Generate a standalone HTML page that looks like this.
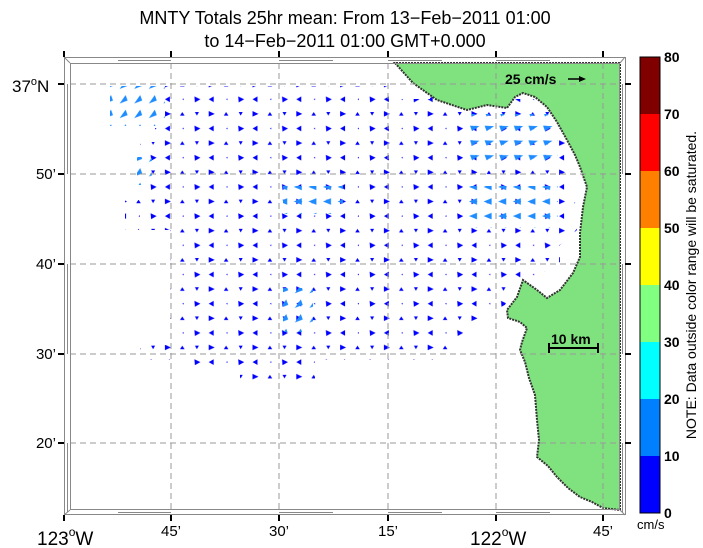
<!DOCTYPE html>
<html><head><meta charset="utf-8"><style>
html,body{margin:0;padding:0;background:#fff;}
svg{display:block;font-family:"Liberation Sans",sans-serif;}
</style></head><body>
<svg width="703" height="548" viewBox="0 0 703 548" xmlns="http://www.w3.org/2000/svg">
<defs>
<pattern id="pb" patternUnits="userSpaceOnUse" x="160.4" y="77.4" width="43.8" height="29.2">
<polygon points="10.5,7.3 4.5,4.5 4.5,10" fill="#0000ff"/>
<polygon points="21.9,5.5 19.6,9 24.2,9" fill="#0000ff"/>
<polygon points="36.5,9 34.5,5.5 38.5,5.5" fill="#0000ff"/>
<polygon points="4.5,21.9 9.5,19 9.5,24.8" fill="#0000ff"/>
<polygon points="21.9,21.9 23.3,21 23.3,22.8" fill="#0000ff"/>
<polygon points="40,21.9 34,19 34.5,25" fill="#0000ff"/>
</pattern>
<pattern id="pl1" patternUnits="userSpaceOnUse" x="160.4" y="77.4" width="14.6" height="14.6">
<polygon points="3,11.5 9,3 11,8.5" fill="#1e8cff"/>
</pattern>
<pattern id="pl2" patternUnits="userSpaceOnUse" x="160.4" y="77.4" width="14.6" height="14.6">
<polygon points="12.5,5 3,4.5 5,10" fill="#1e8cff"/>
</pattern>
<pattern id="pl3" patternUnits="userSpaceOnUse" x="160.4" y="77.4" width="14.6" height="14.6">
<polygon points="2,7.3 10,4 10,10.6" fill="#1e8cff"/>
</pattern>
</defs>
<rect width="703" height="548" fill="#fff"/>
<text x="345" y="24" font-size="18" text-anchor="middle">MNTY Totals 25hr mean: From 13−Feb−2011 01:00</text>
<text x="345" y="47" font-size="18" text-anchor="middle">to 14−Feb−2011 01:00 GMT+0.000</text>
<!-- arrows -->
<path fill="url(#pb)" d="M165,86 L395,86 L395,99 L430,99 L430,86 L490,86 L490,99 L560,99 L572,160 L577,230 L560,245 L560,262 L540,275 L515,285 L505,305 L465,330 L445,360 L315,360 L315,387 L240,387 L240,372 L185,372 L185,360 L140,360 L140,345 L170,345 L170,230 L125,230 L125,200 L140,200 L140,142 L155,142 L155,128 L165,128 Z"/>
<rect x="110" y="86" width="55" height="40" fill="url(#pl1)"/>
<rect x="137" y="157" width="15" height="28" fill="url(#pl1)"/>
<rect x="466" y="114" width="92" height="55" fill="url(#pl2)"/>
<rect x="466" y="186" width="92" height="42" fill="url(#pl3)"/>
<rect x="283" y="186" width="60" height="28" fill="url(#pl3)"/>
<rect x="283" y="288" width="30" height="44" fill="url(#pl1)"/>
<!-- land -->
<path fill="#80e27e" stroke="#333" stroke-width="2" stroke-dasharray="2,1" d="M395,63 L413,83 L437,100 L467,110 L487,105 L507,108 L515,97 L523,93 L535,97 L547,107 L557,122 L567,140 L575,155 L580,167 L587,187 L583,207 L580,233 L580,257 L573,273 L560,290 L547,298 L537,290 L523,280 L517,297 L507,310 L508,318 L520,322 L527,328 L522,342 L520,350 L525,362 L529,378 L535,395 L537,420 L539,440 L537,457 L548,466 L557,477 L568,488 L580,497 L592,502 L603,508 L620,510 L620,63 Z"/>
<!-- grid -->
<g stroke="#999" stroke-width="1" stroke-dasharray="6,4">
<line x1="171" y1="63" x2="171" y2="510"/><line x1="279" y1="63" x2="279" y2="510"/><line x1="388" y1="63" x2="388" y2="510"/><line x1="496" y1="63" x2="496" y2="510"/><line x1="603" y1="63" x2="603" y2="510"/>
<line x1="70" y1="84" x2="620" y2="84"/><line x1="70" y1="174" x2="620" y2="174"/><line x1="70" y1="264" x2="620" y2="264"/><line x1="70" y1="354" x2="620" y2="354"/><line x1="70" y1="443" x2="620" y2="443"/>
</g>
<!-- frame -->
<g fill="none" stroke="#888" stroke-width="1">
<rect x="64.5" y="57.5" width="561" height="457"/>
<rect x="70.5" y="63.5" width="549" height="446"/>
<line x1="64" y1="57" x2="70" y2="63"/><line x1="625" y1="57" x2="620" y2="63"/><line x1="64" y1="515" x2="70" y2="510"/><line x1="625" y1="515" x2="620" y2="510"/>
<line x1="67.5" y1="84" x2="67.5" y2="174"/><line x1="67.5" y1="264" x2="67.5" y2="354"/><line x1="67.5" y1="443" x2="67.5" y2="512"/>
<line x1="622.5" y1="84" x2="622.5" y2="174"/><line x1="622.5" y1="264" x2="622.5" y2="354"/><line x1="622.5" y1="443" x2="622.5" y2="512"/>
<line x1="118" y1="60.5" x2="171" y2="60.5"/><line x1="279" y1="60.5" x2="333" y2="60.5"/><line x1="388" y1="60.5" x2="442" y2="60.5"/><line x1="496" y1="60.5" x2="550" y2="60.5"/>
<line x1="118" y1="512.5" x2="171" y2="512.5"/><line x1="279" y1="512.5" x2="333" y2="512.5"/><line x1="388" y1="512.5" x2="442" y2="512.5"/><line x1="496" y1="512.5" x2="550" y2="512.5"/>
</g>
<g stroke="#000" stroke-width="2">
<line x1="64" y1="51" x2="64" y2="57"/><line x1="171" y1="51" x2="171" y2="57"/><line x1="279" y1="51" x2="279" y2="57"/><line x1="388" y1="51" x2="388" y2="57"/><line x1="496" y1="51" x2="496" y2="57"/><line x1="603" y1="51" x2="603" y2="57"/>
<line x1="64" y1="515" x2="64" y2="521"/><line x1="171" y1="515" x2="171" y2="521"/><line x1="279" y1="515" x2="279" y2="521"/><line x1="388" y1="515" x2="388" y2="521"/><line x1="496" y1="515" x2="496" y2="521"/><line x1="603" y1="515" x2="603" y2="521"/>
<line x1="58" y1="84" x2="64" y2="84"/><line x1="58" y1="174" x2="64" y2="174"/><line x1="58" y1="264" x2="64" y2="264"/><line x1="58" y1="354" x2="64" y2="354"/><line x1="58" y1="443" x2="64" y2="443"/>
<line x1="625" y1="84" x2="631" y2="84"/><line x1="625" y1="174" x2="631" y2="174"/><line x1="625" y1="264" x2="631" y2="264"/><line x1="625" y1="354" x2="631" y2="354"/><line x1="625" y1="443" x2="631" y2="443"/>
</g>
<g font-size="15">
<text x="12" y="92" font-size="17">37<tspan font-size="11" dy="-7">o</tspan><tspan dy="7">N</tspan></text>
<text x="56" y="179" text-anchor="end">50’</text>
<text x="56" y="269" text-anchor="end">40’</text>
<text x="56" y="359" text-anchor="end">30’</text>
<text x="56" y="448" text-anchor="end">20’</text>
<text x="171" y="536" text-anchor="middle">45’</text>
<text x="279" y="536" text-anchor="middle">30’</text>
<text x="388" y="536" text-anchor="middle">15’</text>
<text x="603" y="536" text-anchor="middle">45’</text>
</g>
<text x="37" y="545" font-size="19">123<tspan font-size="12" dy="-9">o</tspan><tspan dy="9">W</tspan></text>
<text x="470" y="545" font-size="19">122<tspan font-size="12" dy="-9">o</tspan><tspan dy="9">W</tspan></text>
<text x="505" y="84" font-size="14" font-weight="bold">25 cm/s</text>
<line x1="568" y1="79" x2="581" y2="79" stroke="#000" stroke-width="1.5"/><polygon points="586,79 579,76 579,82" fill="#000"/>
<text x="551" y="344" font-size="14" font-weight="bold">10 km</text>
<g stroke="#000" stroke-width="2"><line x1="549" y1="348" x2="598" y2="348"/><line x1="549" y1="343" x2="549" y2="353"/><line x1="598" y1="343" x2="598" y2="353"/></g>
<!-- colorbar -->
<rect x="640" y="456" width="20" height="57" fill="#0000ff"/>
<rect x="640" y="399" width="20" height="57" fill="#0080ff"/>
<rect x="640" y="342" width="20" height="57" fill="#00ffff"/>
<rect x="640" y="285" width="20" height="57" fill="#80ff80"/>
<rect x="640" y="228" width="20" height="57" fill="#ffff00"/>
<rect x="640" y="171" width="20" height="57" fill="#ff8000"/>
<rect x="640" y="114" width="20" height="57" fill="#ff0000"/>
<rect x="640" y="57" width="20" height="57" fill="#800000"/>
<rect x="640" y="57" width="20" height="456" fill="none" stroke="#000" stroke-width="1"/>
<g font-size="14" font-weight="bold">
<text x="664" y="518">0</text><text x="664" y="461">10</text><text x="664" y="404">20</text><text x="664" y="347">30</text><text x="664" y="290">40</text><text x="664" y="233">50</text><text x="664" y="176">60</text><text x="664" y="119">70</text><text x="664" y="62">80</text>
</g>
<text x="637" y="529" font-size="13">cm/s</text>
<text transform="translate(696,285) rotate(-90)" font-size="14" text-anchor="middle">NOTE: Data outside color range will be saturated.</text>
</svg>
</body></html>
